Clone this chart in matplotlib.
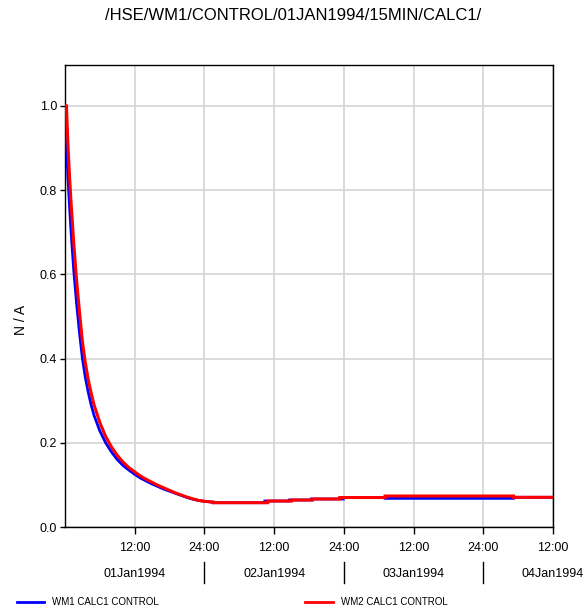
import numpy as np
import matplotlib.pyplot as plt
from matplotlib.lines import Line2D
from matplotlib.transforms import blended_transform_factory

plt.rcParams['font.family'] = ['Liberation Sans', 'DejaVu Sans']

# hours since 01Jan1994 00:00, falling limb of each series
wm1_hours = [0, 0.25, 0.5, 0.75, 1, 1.5, 2, 2.5, 3, 3.5, 4, 4.5, 5, 6, 7, 8,
             9, 10, 11, 12, 13, 14, 15, 16, 17, 18, 19, 20, 21, 22, 23, 24,
             25.5]
wm1_vals = [1.0, 0.91, 0.83, 0.77, 0.71, 0.61, 0.53, 0.46, 0.40, 0.355, 0.32,
            0.29, 0.265, 0.228, 0.2, 0.178, 0.16, 0.146, 0.135, 0.125, 0.116,
            0.109, 0.102, 0.096, 0.09, 0.085, 0.08, 0.075, 0.07, 0.066, 0.063,
            0.061, 0.059]
wm2_hours = [0, 0.25, 0.5, 0.75, 1, 1.5, 2, 2.5, 3, 3.5, 4, 4.5, 5, 6, 7, 8,
             9, 10, 11, 12, 13, 14, 15, 16, 17, 18, 19, 20, 21, 22, 23, 24,
             25.5]
wm2_vals = [1.0, 1.0, 0.91, 0.84, 0.78, 0.675, 0.585, 0.51, 0.44, 0.39, 0.35,
            0.318, 0.29, 0.248, 0.215, 0.19, 0.17, 0.154, 0.141, 0.131, 0.121,
            0.113, 0.106, 0.099, 0.093, 0.087, 0.081, 0.076, 0.071, 0.067,
            0.063, 0.061, 0.059]

# flat tail: level holds from each start hour to the next
wm1_step_hours = [25.5, 34.4, 38.6, 42.4, 47.9, 55.1, 77.2, 84]
wm1_step_vals = [0.0577, 0.0617, 0.0641, 0.0665, 0.0700, 0.0680, 0.0705]
wm2_step_hours = [25.5, 34.9, 39.0, 42.6, 47.3, 55.1, 77.2, 84]
wm2_step_vals = [0.0577, 0.0617, 0.0641, 0.0665, 0.0700, 0.0736, 0.0705]

tick_hours = [12, 24, 36, 48, 60, 72, 84]
tick_labels = ['12:00', '24:00', '12:00', '24:00', '12:00', '24:00', '12:00']
day_hours = [12, 36, 60, 84]
day_labels = ['01Jan1994', '02Jan1994', '03Jan1994', '04Jan1994']
day_breaks = [24, 48, 72]


def series(hours, vals, step_hours, step_vals):
    sx = np.repeat(step_hours, 2)[1:-1]
    sy = np.repeat(step_vals, 2)
    return np.concatenate([hours, sx]), np.concatenate([vals, sy])


W, H = 587, 613
fig = plt.figure(figsize=(W / 100, H / 100), dpi=100)
ax = fig.add_axes([65 / W, 1 - 527 / H, 488 / W, 462 / H])

x1, y1 = series(wm1_hours, wm1_vals, wm1_step_hours, wm1_step_vals)
x2, y2 = series(wm2_hours, wm2_vals, wm2_step_hours, wm2_step_vals)
ax.plot(x1, y1, color='#0000ff', lw=2.0, solid_joinstyle='miter', zorder=3)
ax.plot(x2, y2, color='#ff0000', lw=2.2, solid_joinstyle='miter', zorder=4)

ax.set_xlim(0, 84)
ax.set_ylim(0, 1.097)
ax.set_xticks(tick_hours)
ax.set_xticklabels(tick_labels)
ax.set_yticks([0, 0.2, 0.4, 0.6, 0.8, 1.0])
ax.set_yticklabels(['0.0', '0.2', '0.4', '0.6', '0.8', '1.0'])
ax.tick_params(axis='x', direction='out', length=5, width=1, pad=6,
               labelsize=9, colors='black')
ax.tick_params(axis='y', direction='out', length=3.6, width=1, pad=2,
               labelsize=9, colors='black')
ax.grid(True, color='#d4d4d4', lw=1.2)
ax.set_axisbelow(True)
for sp in ax.spines.values():
    sp.set_color('black')
    sp.set_linewidth(1.0)

fig.text(21 / W, 1 - 320 / H, 'N / A', rotation=90, ha='center',
         va='center', fontsize=10)

# day labels under the time ticks, with separators at midnight
tr = blended_transform_factory(ax.transData, fig.transFigure)
for h, lab in zip(day_hours, day_labels):
    ax.text(h, 1 - 574 / H, lab, transform=tr, ha='center', va='center',
            fontsize=9, clip_on=False)
for h in day_breaks:
    ax.add_line(Line2D([h, h], [1 - 562 / H, 1 - 583 / H], transform=tr,
                       color='black', lw=1.0, clip_on=False))

fig.text(0.5, 1 - 16 / H, '/HSE/WM1/CONTROL/01JAN1994/15MIN/CALC1/',
         ha='center', va='center', fontsize=12)

# legend row along the bottom edge
ly = 1 - 602 / H
fig.add_artist(Line2D([17 / W, 44 / W], [ly, ly], color='#0000ff', lw=2.0))
fig.text(52 / W, ly, 'WM1 CALC1 CONTROL', ha='left', va='center', fontsize=7)
fig.add_artist(Line2D([305 / W, 333 / W], [ly, ly], color='#ff0000', lw=2.0))
fig.text(341 / W, ly, 'WM2 CALC1 CONTROL', ha='left', va='center', fontsize=7)

fig.savefig('out.png', dpi=100)
